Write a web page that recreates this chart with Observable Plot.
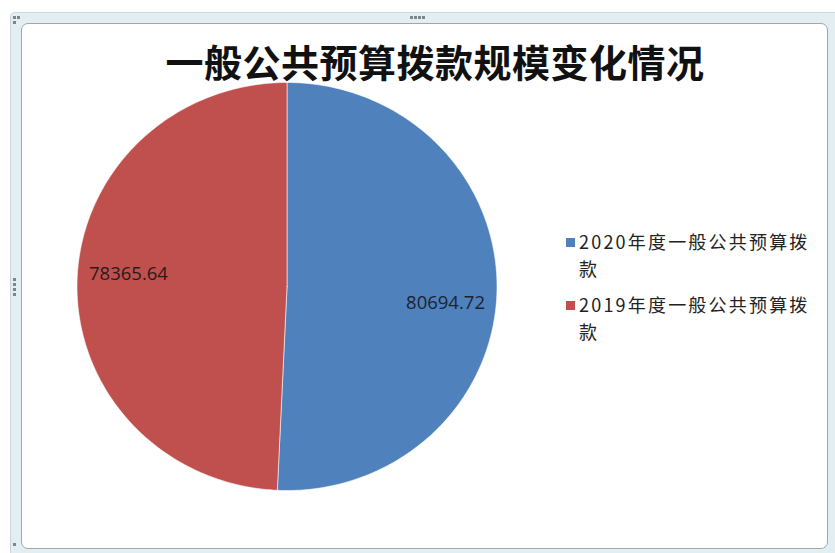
<!DOCTYPE html>
<html>
<head>
<meta charset="utf-8">
<script src="https://cdn.jsdelivr.net/npm/d3@7"></script>
<script src="https://cdn.jsdelivr.net/npm/@observablehq/plot@0.6"></script>
<style>
  html, body { margin: 0; padding: 0; background: #fff; }
  #wrap { position: relative; width: 835px; height: 553px; overflow: hidden; background: #fff; }
  #band { position: absolute; left: 10px; top: 12px; width: 830px; height: 545px; background: #e3eef3; border-top: 1px solid #c9d6dd; border-left: 1px solid #c9d6dd; border-radius: 5px 0 0 0; }
  #inner { position: absolute; left: 21px; top: 23px; width: 805px; height: 524px; background: #fff; border: 1px solid #9ea7ad; border-radius: 7px; }
  .grip { position: absolute; width: 3px; height: 3px; background: #7d868c; }
  #chart { position: absolute; left: 0; top: 0; }
  #title { position: absolute; left: 0; width: 870px; top: 36px; text-align: center; font-family: "Noto Sans CJK SC", sans-serif; font-weight: 700; font-size: 38px; line-height: 50px; color: #111; letter-spacing: 0.5px; }
  #legend { position: absolute; left: 564px; top: 228px; font-family: "Noto Sans CJK SC", sans-serif; font-size: 18px; line-height: 27px; color: #222; width: 258px; letter-spacing: 2.2px; }
  .item { position: relative; padding-left: 15px; margin-bottom: 9px; }
  .sw { position: absolute; left: 2px; top: 10px; width: 9px; height: 9px; }
</style>
</head>
<body>
<div id="wrap">
  <div id="band"></div>
  <div id="inner"></div>
  <div class="grip" style="left:13px;top:16px"></div>
  <div class="grip" style="left:17px;top:16px"></div>
  <div class="grip" style="left:13px;top:21px"></div>
  <div class="grip" style="left:410px;top:16px"></div>
  <div class="grip" style="left:414px;top:16px"></div>
  <div class="grip" style="left:418px;top:16px"></div>
  <div class="grip" style="left:422px;top:16px"></div>
  <div class="grip" style="left:13px;top:278px"></div>
  <div class="grip" style="left:13px;top:283px"></div>
  <div class="grip" style="left:13px;top:288px"></div>
  <div class="grip" style="left:13px;top:293px"></div>
  <div class="grip" style="left:13px;top:543px"></div>
  <div id="chart"></div>
  <div id="title"></div>
  <div id="legend"></div>
</div>
<script>
// ---- data ----
const title = "一般公共预算拨款规模变化情况";
const categories = ["2020年度一般公共预算拨款", "2019年度一般公共预算拨款"];
const values = [80694.72, 78365.64];
const valueLabels = ["80694.72", "78365.64"];
const colors = ["#4f81bd", "#c0504d"];

// ---- layout / styling ----
const W = 835, H = 553;
const cx = 286.5, cy = 286, rx = 210, ry = 204;

document.getElementById("title").textContent = title;

const rows = categories.map((c, i) => ({name: c, value: values[i], label: valueLabels[i]}));
const arcs = d3.pie().sort(null).value(d => d.value)(rows);

// polygon points for each slice (unit circle coordinates; angle clockwise from top)
const pts = [];
arcs.forEach(a => {
  const n = 180;
  pts.push({name: a.data.name, ux: 0, uy: 0});
  for (let k = 0; k <= n; k++) {
    const t = a.startAngle + (a.endAngle - a.startAngle) * k / n;
    pts.push({name: a.data.name, ux: Math.sin(t), uy: Math.cos(t)});
  }
  pts.push({name: a.data.name, ux: 0, uy: 0});
});

const labelDy = [13, -9];
const labels = arcs.map((a, i) => {
  const m = (a.startAngle + a.endAngle) / 2;
  return {name: a.data.name, label: a.data.label, ux: 0.755 * Math.sin(m), uy: 0.755 * Math.cos(m)};
});

const plot = Plot.plot({
  width: W,
  height: H,
  margin: 0,
  style: {background: "transparent", overflow: "visible"},
  x: {domain: [-1, 1], range: [cx - rx, cx + rx], axis: null},
  y: {domain: [-1, 1], range: [cy + ry, cy - ry], axis: null},
  color: {domain: categories, range: colors},
  marks: [
    Plot.line(pts, {x: "ux", y: "uy", z: "name", fill: "name", stroke: "#ffffff", strokeWidth: 0.8, strokeOpacity: 0.7, curve: "linear"}),
    Plot.text(labels.filter((d, i) => i === 0), {x: "ux", y: "uy", text: "label", dy: labelDy[0], fontSize: 18.5, fontFamily: "Open Sans, Lato, sans-serif", fill: "#1c2330"}),
    Plot.text(labels.filter((d, i) => i === 1), {x: "ux", y: "uy", text: "label", dy: labelDy[1], fontSize: 18.5, fontFamily: "Open Sans, Lato, sans-serif", fill: "#2a1b1b"})
  ]
});
document.getElementById("chart").appendChild(plot);

// legend
const lg = document.getElementById("legend");
categories.forEach((c, i) => {
  const it = document.createElement("div");
  it.className = "item";
  const sw = document.createElement("span");
  sw.className = "sw";
  sw.style.background = colors[i];
  it.appendChild(sw);
  const tx = document.createElement("span");
  tx.textContent = c;
  it.appendChild(tx);
  lg.appendChild(it);
});
</script>
</body>
</html>
